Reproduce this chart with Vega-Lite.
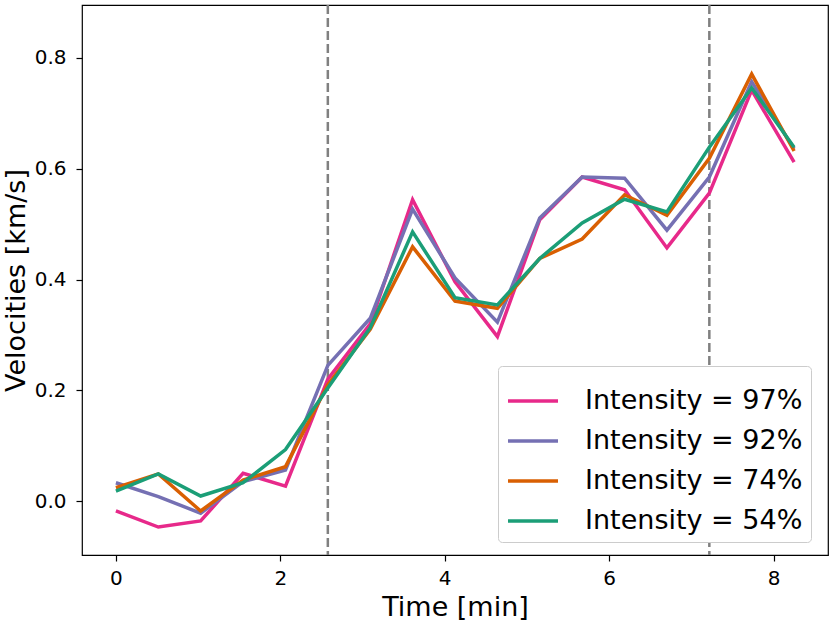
{
  "$schema": "https://vega.github.io/schema/vega-lite/v6.json",
  "autosize": "none",
  "width": 746,
  "height": 550,
  "padding": {"left": 82, "top": 5, "right": 2, "bottom": 71},
  "background": "white",
  "config": {
    "font": "DejaVu Sans",
    "view": {"stroke": "black", "strokeWidth": 1.2},
    "axis": {"grid": false, "domain": false, "tickColor": "black", "tickSize": 6, "tickWidth": 1.2, "labelColor": "black", "titleColor": "black", "labelFontSize": 20, "titleFontSize": 27, "titleFontWeight": "normal", "labelFont": "DejaVu Sans", "titleFont": "DejaVu Sans"}
  },
  "datasets": {
    "series": [
      {"t": 0, "v": -0.018, "s": "Intensity = 97%"},
      {"t": 0.516, "v": -0.047, "s": "Intensity = 97%"},
      {"t": 1.031, "v": -0.036, "s": "Intensity = 97%"},
      {"t": 1.547, "v": 0.05, "s": "Intensity = 97%"},
      {"t": 2.063, "v": 0.027, "s": "Intensity = 97%"},
      {"t": 2.578, "v": 0.22, "s": "Intensity = 97%"},
      {"t": 3.094, "v": 0.32, "s": "Intensity = 97%"},
      {"t": 3.609, "v": 0.544, "s": "Intensity = 97%"},
      {"t": 4.125, "v": 0.396, "s": "Intensity = 97%"},
      {"t": 4.641, "v": 0.297, "s": "Intensity = 97%"},
      {"t": 5.156, "v": 0.508, "s": "Intensity = 97%"},
      {"t": 5.672, "v": 0.585, "s": "Intensity = 97%"},
      {"t": 6.188, "v": 0.562, "s": "Intensity = 97%"},
      {"t": 6.703, "v": 0.457, "s": "Intensity = 97%"},
      {"t": 7.219, "v": 0.556, "s": "Intensity = 97%"},
      {"t": 7.734, "v": 0.742, "s": "Intensity = 97%"},
      {"t": 8.25, "v": 0.612, "s": "Intensity = 97%"},
      {"t": 0, "v": 0.033, "s": "Intensity = 92%"},
      {"t": 0.516, "v": 0.008, "s": "Intensity = 92%"},
      {"t": 1.031, "v": -0.022, "s": "Intensity = 92%"},
      {"t": 1.547, "v": 0.035, "s": "Intensity = 92%"},
      {"t": 2.063, "v": 0.056, "s": "Intensity = 92%"},
      {"t": 2.578, "v": 0.245, "s": "Intensity = 92%"},
      {"t": 3.094, "v": 0.33, "s": "Intensity = 92%"},
      {"t": 3.609, "v": 0.527, "s": "Intensity = 92%"},
      {"t": 4.125, "v": 0.403, "s": "Intensity = 92%"},
      {"t": 4.641, "v": 0.323, "s": "Intensity = 92%"},
      {"t": 5.156, "v": 0.511, "s": "Intensity = 92%"},
      {"t": 5.672, "v": 0.585, "s": "Intensity = 92%"},
      {"t": 6.188, "v": 0.583, "s": "Intensity = 92%"},
      {"t": 6.703, "v": 0.489, "s": "Intensity = 92%"},
      {"t": 7.219, "v": 0.585, "s": "Intensity = 92%"},
      {"t": 7.734, "v": 0.757, "s": "Intensity = 92%"},
      {"t": 8.25, "v": 0.636, "s": "Intensity = 92%"},
      {"t": 0, "v": 0.024, "s": "Intensity = 74%"},
      {"t": 0.516, "v": 0.049, "s": "Intensity = 74%"},
      {"t": 1.031, "v": -0.018, "s": "Intensity = 74%"},
      {"t": 1.547, "v": 0.038, "s": "Intensity = 74%"},
      {"t": 2.063, "v": 0.062, "s": "Intensity = 74%"},
      {"t": 2.578, "v": 0.21, "s": "Intensity = 74%"},
      {"t": 3.094, "v": 0.31, "s": "Intensity = 74%"},
      {"t": 3.609, "v": 0.459, "s": "Intensity = 74%"},
      {"t": 4.125, "v": 0.361, "s": "Intensity = 74%"},
      {"t": 4.641, "v": 0.348, "s": "Intensity = 74%"},
      {"t": 5.156, "v": 0.438, "s": "Intensity = 74%"},
      {"t": 5.672, "v": 0.473, "s": "Intensity = 74%"},
      {"t": 6.188, "v": 0.553, "s": "Intensity = 74%"},
      {"t": 6.703, "v": 0.516, "s": "Intensity = 74%"},
      {"t": 7.219, "v": 0.619, "s": "Intensity = 74%"},
      {"t": 7.734, "v": 0.771, "s": "Intensity = 74%"},
      {"t": 8.25, "v": 0.632, "s": "Intensity = 74%"},
      {"t": 0, "v": 0.018, "s": "Intensity = 54%"},
      {"t": 0.516, "v": 0.049, "s": "Intensity = 54%"},
      {"t": 1.031, "v": 0.009, "s": "Intensity = 54%"},
      {"t": 1.547, "v": 0.033, "s": "Intensity = 54%"},
      {"t": 2.063, "v": 0.093, "s": "Intensity = 54%"},
      {"t": 2.578, "v": 0.204, "s": "Intensity = 54%"},
      {"t": 3.094, "v": 0.313, "s": "Intensity = 54%"},
      {"t": 3.609, "v": 0.486, "s": "Intensity = 54%"},
      {"t": 4.125, "v": 0.367, "s": "Intensity = 54%"},
      {"t": 4.641, "v": 0.354, "s": "Intensity = 54%"},
      {"t": 5.156, "v": 0.438, "s": "Intensity = 54%"},
      {"t": 5.672, "v": 0.502, "s": "Intensity = 54%"},
      {"t": 6.188, "v": 0.545, "s": "Intensity = 54%"},
      {"t": 6.703, "v": 0.522, "s": "Intensity = 54%"},
      {"t": 7.219, "v": 0.639, "s": "Intensity = 54%"},
      {"t": 7.734, "v": 0.746, "s": "Intensity = 54%"},
      {"t": 8.25, "v": 0.639, "s": "Intensity = 54%"}
    ],
    "marks": [{"t": 2.578}, {"t": 7.219}]
  },
  "layer": [
    {
      "data": {"name": "marks"},
      "mark": {"type": "rule", "color": "#808080", "strokeWidth": 2.5, "strokeDash": [9, 4]},
      "encoding": {
        "x": {"field": "t", "type": "quantitative", "scale": {"domain": [-0.4125, 8.6625], "nice": false, "zero": false}}
      }
    },
    {
      "data": {"name": "series"},
      "mark": {"type": "line", "strokeWidth": 3.5, "strokeJoin": "miter", "clip": true},
      "encoding": {
        "x": {"field": "t", "type": "quantitative", "scale": {"domain": [-0.4125, 8.6625], "nice": false, "zero": false}, "axis": {"values": [0, 2, 4, 6, 8], "format": "d", "title": "Time [min]", "labelPadding": 7, "titlePadding": 6}},
        "y": {"field": "v", "type": "quantitative", "scale": {"domain": [-0.0975, 0.8957], "nice": false, "zero": false}, "axis": {"values": [0, 0.2, 0.4, 0.6, 0.8], "format": ".1f", "title": "Velocities [km/s]", "labelPadding": 10, "titlePadding": 4}},
        "color": {
          "field": "s", "type": "nominal",
          "scale": {"domain": ["Intensity = 97%", "Intensity = 92%", "Intensity = 74%", "Intensity = 54%"], "range": ["#e7298a", "#7570b3", "#d95f02", "#1b9e77"]},
          "legend": {"title": null, "orient": "none", "legendX": 416, "legendY": 361, "symbolType": "stroke", "symbolSize": 2500, "symbolStrokeWidth": 3.5, "labelFontSize": 27, "labelFont": "DejaVu Sans", "labelColor": "black", "labelLimit": 0, "labelOffset": 25, "rowPadding": -12, "padding": 8, "fillColor": "white", "strokeColor": "#cccccc", "cornerRadius": 4}
        }
      }
    }
  ]
}
